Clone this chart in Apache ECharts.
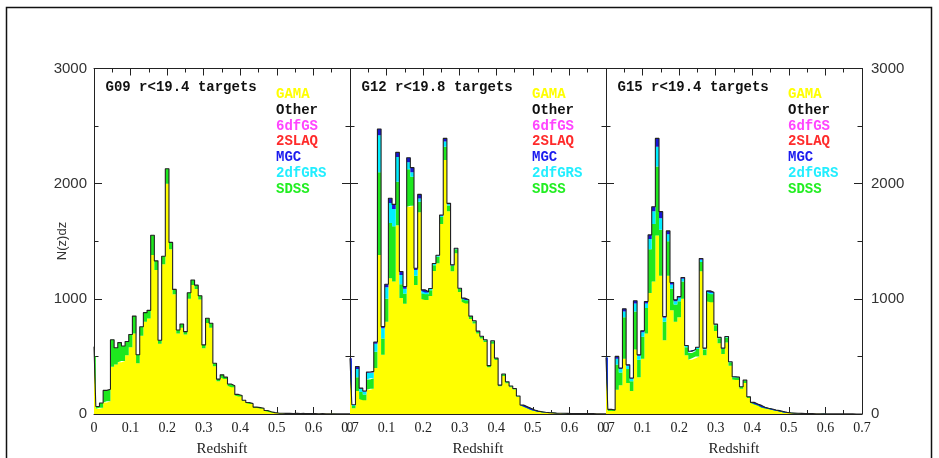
<!DOCTYPE html>
<html><head><meta charset="utf-8">
<script src="https://cdn.jsdelivr.net/npm/echarts@6/dist/echarts.min.js"></script>
<style>html,body{margin:0;padding:0;background:#fff}#c{width:939px;height:458px}</style>
</head><body><div id="c"></div><script>
// Bin centres (redshift)
const Z_BINS = ['0.00','0.01','0.02','0.03','0.04','0.05','0.06','0.07','0.08','0.09','0.10','0.11','0.12','0.13','0.14','0.15','0.16','0.17','0.18','0.19','0.20','0.21','0.22','0.23','0.24','0.25','0.26','0.27','0.28','0.29','0.30','0.31','0.32','0.33','0.34','0.35','0.36','0.37','0.38','0.39','0.40','0.41','0.42','0.43','0.44','0.45','0.46','0.47','0.48','0.49','0.50','0.51','0.52','0.53','0.54','0.55','0.56','0.57','0.58','0.59','0.60','0.61','0.62','0.63','0.64','0.65','0.66','0.67','0.68','0.69','0.70'];

// G09
const G09_GAMA = [500,45,55,100,110,410,430,450,460,510,580,700,440,680,800,830,1380,1250,610,1300,2000,1430,1040,700,750,690,1000,1120,1085,995,570,790,750,415,285,320,303,245,232,160,152,114,95,86,57,52,48,29,19,12,8,6,5,5,4,6,4,5,3,4,3,2,3,2,2,2,1,1,1,1,1];
const G09_SDSS = [85,20,40,105,105,235,145,170,130,120,110,150,75,77,80,70,172,80,30,70,129,60,42,30,32,25,53,43,34,32,30,41,38,26,18,20,17,15,13,10,8,6,5,4,3,3,2,1,1,0,0,0,0,0,0,0,0,0,0,0,0,0,0,0,0,0,0,0,0,0,0];

// G12
const G12_GAMA = [380,50,200,130,120,210,220,400,1380,515,800,1178,1150,1640,1007,957,1800,1809,1121,1752,998,990,1025,1242,1310,1650,2206,1760,1240,1395,1060,975,960,825,785,700,655,625,405,610,468,242,330,268,233,213,150,75,62,48,34,25,20,15,12,10,8,7,6,5,4,4,3,3,3,3,3,2,2,2,2];
const G12_SDSS = [80,20,120,60,50,90,90,140,720,140,200,480,480,376,120,90,325,250,80,90,50,50,50,50,55,60,115,50,45,35,25,25,25,20,20,16,16,16,12,22,14,8,15,10,9,8,5,3,2,1,1,0,0,0,0,0,0,0,0,0,0,0,0,0,0,0,0,0,0,0,0];
const G12_2DF = [25,10,70,30,25,55,50,70,320,90,100,175,150,216,80,40,60,40,50,30,20,15,10,10,10,12,45,12,6,6,5,4,4,3,3,3,3,3,2,3,2,1,2,2,1,1,1,0,0,0,0,0,0,0,0,0,0,0,0,0,0,0,0,0,0,0,0,0,0,0,0];
const G12_MGC = [0,0,23,5,5,10,10,15,55,15,27,40,40,40,30,20,40,40,15,35,10,6,5,5,4,6,27,7,4,3,2,2,2,2,2,1,1,1,1,1,1,0,0,0,0,0,0,0,0,0,0,0,0,0,0,0,0,0,0,0,0,0,0,0,0,0,0,0,0,0,0];

// G15
const G15_GAMA = [400,25,25,210,250,480,270,200,560,320,480,700,1050,1150,1550,1200,640,1200,900,800,840,1000,510,470,485,500,1240,510,980,970,720,615,520,620,420,300,295,220,270,140,95,82,71,55,48,41,34,28,21,14,10,8,6,5,4,3,3,2,2,2,1,1,1,1,1,1,1,1,0,0,0];
const G15_SDSS = [90,15,10,220,110,360,120,85,330,150,190,220,380,500,600,400,160,300,190,150,140,150,70,60,60,65,80,50,70,70,50,42,45,45,30,20,22,15,22,10,6,5,4,3,2,2,1,1,1,0,0,0,0,0,0,0,0,0,0,0,0,0,0,0,0,0,0,0,0,0,0];
const G15_2DF = [0,0,0,50,30,50,30,20,70,35,40,40,90,110,170,100,35,60,35,30,30,25,10,10,10,10,20,8,12,12,7,5,5,5,3,3,2,1,2,0,0,0,0,0,0,0,0,0,0,0,0,0,0,0,0,0,0,0,0,0,0,0,0,0,0,0,0,0,0,0,0];
const G15_MGC = [0,0,0,20,10,23,8,7,23,9,13,17,35,40,73,57,12,30,17,11,10,10,5,5,5,5,10,4,7,6,3,3,2,3,1,1,1,1,1,0,0,0,0,0,0,0,0,0,0,0,0,0,0,0,0,0,0,0,0,0,0,0,0,0,0,0,0,0,0,0,0];

const PANEL_TITLES = ['G09 r<19.4 targets','G12 r<19.8 targets','G15 r<19.4 targets'];
const COMP_NAMES = ['GAMA','SDSS','2dFGRS','MGC'];
const PANEL_COMPS = [[G09_GAMA,G09_SDSS],[G12_GAMA,G12_SDSS,G12_2DF,G12_MGC],[G15_GAMA,G15_SDSS,G15_2DF,G15_MGC]];
const LEGEND_LABELS = ['GAMA','Other','6dfGS','2SLAQ','MGC','2dfGRS','SDSS'];
const X_RANGE = [0, 0.7, 0.1];
const Y_RANGE = [0, 3000, 1000];

// styles
const COMP_COLORS = ['#ffff00','#1ee81e','#00eeff','#1616d6'];
const LEGEND_COLORS = ['#ffff00','#111111','#ff44ff','#ff2a2a','#1a1aee','#22eeff','#22ee22'];
const GRID_LEFT = [94, 350, 606], GRID_W = 256, GRID_TOP = 68.5, GRID_H = 345.5;
const INK = '#222';

const grids = [], xAxes = [], yAxes = [], series = [], graphics = [];
graphics.push({type:'rect', shape:{x:6.5, y:7.5, width:925, height:480}, style:{fill:'none', stroke:'#111', lineWidth:1.5}, silent:true});
graphics.push({type:'text', x:62, y:241, rotation:Math.PI/2, style:{text:'N(z)dz', align:'center', verticalAlign:'middle', font:'13px "Liberation Sans"', fill:'#333'}});

for (let i = 0; i < 3; i++) {
  grids.push({left:GRID_LEFT[i], top:GRID_TOP, width:GRID_W, height:GRID_H, containLabel:false, outerBoundsMode:'none'});
  const tick = {show:true, inside:true, length:7, lineStyle:{color:INK, width:1}};
  const minor = {show:true, splitNumber:2, length:4, lineStyle:{color:INK, width:1}};
  // hidden category axis carrying the histogram bins
  xAxes.push({gridIndex:i, type:'category', data:Z_BINS, boundaryGap:false, show:false,
    axisLine:{show:false, onZero:false}, axisTick:{show:false}, axisLabel:{show:false}, splitLine:{show:false}});
  const xBase = {gridIndex:i, type:'value', min:X_RANGE[0], max:X_RANGE[1], interval:X_RANGE[2],
    axisLine:{show:true, onZero:false, lineStyle:{color:INK, width:1}}, axisTick:tick, minorTick:minor,
    splitLine:{show:false}, minorSplitLine:{show:false}};
  xAxes.push(Object.assign({}, xBase, {position:'bottom',
    axisLabel:{show:true, margin:7, fontFamily:'Liberation Serif', fontSize:14, color:INK,
      formatter:v => v === 0 ? '0' : v.toFixed(1)},
    name:'Redshift', nameLocation:'middle', nameGap:28,
    nameTextStyle:{fontFamily:'Liberation Serif', fontSize:15, color:INK}}));
  xAxes.push(Object.assign({}, xBase, {position:'top', axisLabel:{show:false}}));
  const yBase = {gridIndex:i, type:'value', min:Y_RANGE[0], max:Y_RANGE[1], interval:Y_RANGE[2],
    axisLine:{show:true, onZero:false, lineStyle:{color:INK, width:1}},
    axisTick:{show:true, inside:true, length:8, lineStyle:{color:INK, width:1}},
    minorTick:{show:true, splitNumber:2, length:4.5, lineStyle:{color:INK, width:1}},
    splitLine:{show:false}, minorSplitLine:{show:false}};
  yAxes.push(Object.assign({}, yBase, {position:'left',
    axisLabel:{show:i === 0, margin:7, fontFamily:'Liberation Sans', fontSize:15, color:'#333', formatter:v => String(v)}}));
  yAxes.push(Object.assign({}, yBase, {position:'right',
    axisLabel:{show:i === 2, margin:9, fontFamily:'Liberation Sans', fontSize:15, color:'#333', formatter:v => String(v)}}));

  const comps = PANEL_COMPS[i];
  comps.forEach((arr, j) => {
    const last = j === comps.length - 1;
    series.push({type:'line', name:COMP_NAMES[j], xAxisIndex:3*i, yAxisIndex:2*i, stack:'p'+i,
      step:'middle', symbol:'none', showSymbol:false, animation:false, clip:true,
      data:arr.slice(),
      areaStyle:{color:COMP_COLORS[j], opacity:1},
      lineStyle:{width:last ? 1.1 : 0, color:INK}, z:2});
  });

  graphics.push({type:'text', x:GRID_LEFT[i] + 11.5, y:87, style:{text:PANEL_TITLES[i], align:'left', verticalAlign:'middle', font:'bold 14px "Liberation Mono"', fill:'#111'}});
  LEGEND_LABELS.forEach((t, j) => {
    graphics.push({type:'text', x:GRID_LEFT[i] + 182, y:94.5 + j*15.8, style:{text:t, align:'left', verticalAlign:'middle', font:'bold 14px "Liberation Mono"', fill:LEGEND_COLORS[j]}});
  });
}

const chart = echarts.init(document.getElementById('c'), null, {renderer:'canvas'});
chart.setOption({animation:false, backgroundColor:'#fff', grid:grids, xAxis:xAxes, yAxis:yAxes, series:series, graphic:graphics});
</script></body></html>
